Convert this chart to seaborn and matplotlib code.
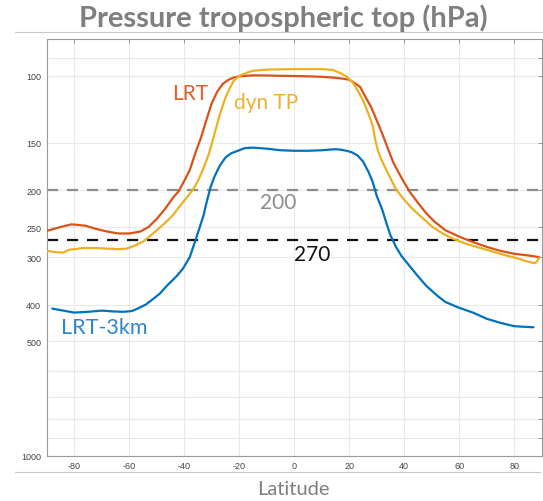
import matplotlib
matplotlib.use("Agg")
import matplotlib.pyplot as plt
from matplotlib.lines import Line2D
import numpy as np
import pandas as pd
import seaborn as sns

# ---------------- data ----------------
lrt_lat = [-90, -85, -81, -76, -72, -68, -64, -60, -56, -53, -50, -47, -44, -42, -40, -38, -36,
           -34, -32, -30, -28, -26, -24, -22, -20, -15, -10, -5, 0, 5, 10, 15, 18, 20, 22, 24,
           26, 28, 30, 32, 34, 36, 38, 40, 42, 45, 48, 51, 55, 60, 65, 70, 75, 80, 85, 89]
lrt_p = [256, 250, 246, 248, 253, 257, 260, 260, 257, 250, 238, 224, 209, 201, 189, 177, 160,
         146, 131, 118, 110, 105, 102.5, 101, 100.3, 99.7, 99.8, 100, 100.1, 100.3, 100.6, 101.2,
         101.8, 102.4, 104.5, 107, 114, 121, 131, 142, 155, 169, 180, 191, 202, 216, 230, 242,
         255, 265, 274, 282, 289, 294, 297, 300]

dyn_lat = [-90, -87, -84, -82, -80, -77, -72, -68, -64, -61, -58, -55, -53, -50, -47, -44, -42,
           -40, -37, -35, -33, -31, -29, -27, -25, -23.5, -22, -20, -17, -15, -10, 0, 10, 14, 17,
           19, 21, 23, 25, 27, 28.5, 29.5, 30.5, 32, 34, 37, 40, 43, 47, 50, 54, 57.5, 62, 67,
           72, 77, 81, 84, 87, 88, 89]
dyn_p = [289, 291, 292, 287, 286, 284, 284, 285, 286, 285, 280, 273, 266, 255, 244, 232, 222,
         213, 200, 189, 175, 160, 142, 126, 114, 108, 103, 100, 98, 97, 96.3, 96, 96, 96.5, 98.5,
         100.5, 103.5, 109, 116, 126, 135, 148, 158, 168, 180, 199, 212, 224, 238, 249, 260, 268,
         276, 283, 290, 297, 302, 307, 311, 310, 302]

km3_lat = [-88, -84, -80, -75, -70, -66, -62, -59, -57, -54, -52, -49, -46, -43, -40.5, -38, -36,
           -34.5, -33, -32, -30.5, -29, -27, -25, -23, -21, -18, -15, -10, -5, 0, 5, 10, 15, 17,
           19, 21, 23, 25, 27, 28.5, 30, 32, 33.5, 35, 37, 39, 42, 45, 48, 52, 55, 60, 65, 70,
           75, 80, 84, 87]
km3_p = [410, 415, 420, 418, 415, 417, 418, 416, 410, 400, 390, 375, 355, 338, 322, 300, 272,
         252, 233, 217, 197, 184, 172, 164, 160, 158, 155, 154.5, 155.5, 157, 157.5, 157.5, 157,
         156, 156.5, 157.5, 159, 162, 168, 179, 190, 207, 225, 244, 263, 282, 298, 317, 337, 357,
         379, 394, 408, 420, 436, 447, 456, 458, 459]

series_names = ["LRT", "dyn TP", "LRT-3km"]
series_colors = ["#D95319", "#EDB120", "#0072BD"]
ref_levels = [200, 270]
ytick_vals = [90, 100, 150, 200, 250, 300, 400, 500, 600, 700, 800, 900, 1000]
ytick_labels = ["", "100", "150", "200", "250", "300", "400", "500", "", "", "", "", "1000"]
xtick_vals = [-80, -60, -40, -20, 0, 20, 40, 60, 80]

df = pd.concat([
    pd.DataFrame({"lat": lrt_lat, "p": lrt_p, "series": "LRT"}),
    pd.DataFrame({"lat": dyn_lat, "p": dyn_p, "series": "dyn TP"}),
    pd.DataFrame({"lat": km3_lat, "p": km3_p, "series": "LRT-3km"}),
], ignore_index=True)

# ---------------- figure ----------------
sns.set_style("white")
plt.rcParams["font.family"] = ["Lato", "DejaVu Sans"]

fig = plt.figure(figsize=(5.43, 5.02), dpi=100)
ax = fig.add_axes([0.0862, 0.0902, 0.9114, 0.8301])

ax.set_yscale("log")
ax.set_ylim(1000, 80)
ax.set_xlim(-90, 90)

# grid
for yv in ytick_vals:
    ax.axhline(yv, color="#e9e9e9", lw=0.8, zorder=0)
for xv in xtick_vals:
    ax.axvline(xv, color="#e9e9e9", lw=0.8, zorder=0)

# reference lines
ax.axhline(ref_levels[0], color="#8c8c8c", lw=1.6, ls=(0, (5, 4)), zorder=1)
ax.axhline(ref_levels[1], color="#111111", lw=1.6, ls=(0, (5, 4)), zorder=1)

sns.lineplot(data=df, x="lat", y="p", hue="series", hue_order=series_names,
             palette=dict(zip(series_names, series_colors)), sort=False,
             estimator=None, lw=1.6, legend=False, ax=ax, zorder=3)

ax.minorticks_off()
ax.set_yticks(ytick_vals)
ax.set_yticklabels(ytick_labels)
ax.set_xticks(xtick_vals)
ax.set_xticklabels([str(v) for v in xtick_vals])
ax.minorticks_off()
ax.tick_params(axis="both", direction="in", length=3, width=0.6, color="#888888",
               labelsize=6.5, labelcolor="#444444", top=True, right=True, pad=4)
for lab in ax.get_xticklabels() + ax.get_yticklabels():
    lab.set_family(["Liberation Sans", "DejaVu Sans"])
for s in ax.spines.values():
    s.set_color("#9a9a9a")
    s.set_linewidth(0.8)
ax.set_xlabel("")
ax.set_ylabel("")

# text labels
ax.text(-38, 111, "LRT", color="#D95F2B", fontsize=15, ha="center", va="center")
ax.text(-10.4, 117, "dyn TP", color="#EDB130", fontsize=15, ha="center", va="center")
ax.text(-5.7, 215, "200", color="#8c8c8c", fontsize=15, ha="center", va="center")
ax.text(6.4, 295, "270", color="#111111", fontsize=15, ha="center", va="center")
ax.text(-69.2, 458, "LRT-3km", color="#2E86CF", fontsize=15.5, ha="center", va="center")

fig.text(283 / 543, 1 - 18 / 502, "Pressure tropospheric top (hPa)", color="#7f7f7f",
         fontsize=21, fontweight="bold", ha="center", va="center")
fig.text(293 / 543, 1 - 490 / 502, "Latitude", color="#7f7f7f", fontsize=14.5,
         ha="center", va="center")

fig.add_artist(Line2D([15 / 543, 1.0], [1 - 33 / 502, 1 - 33 / 502], color="#c8c8c8", lw=0.8))
fig.add_artist(Line2D([15 / 543, 540 / 543], [1 - 473 / 502, 1 - 473 / 502], color="#c8c8c8", lw=0.8))

fig.savefig("out.png", dpi=100, facecolor="white")
